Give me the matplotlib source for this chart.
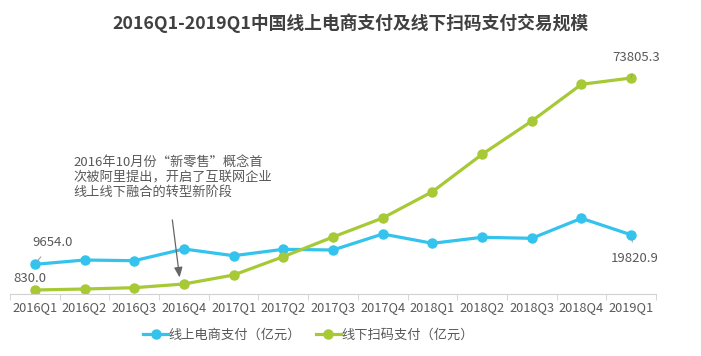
import matplotlib.pyplot as plt
import numpy as np

plt.rcParams['font.family'] = ['Noto Sans CJK SC', 'DejaVu Sans']

quarters = ['2016Q1', '2016Q2', '2016Q3', '2016Q4', '2017Q1', '2017Q2', '2017Q3',
            '2017Q4', '2018Q1', '2018Q2', '2018Q3', '2018Q4', '2019Q1']
online = [9654.0, 11150, 10910, 14940, 12630, 14840, 14590,
          20100, 16900, 18970, 18620, 25510, 19820.9]
offline = [830.0, 1170, 1620, 2890, 5990, 12290, 19070,
           25610, 34660, 47530, 58980, 71630, 73805.3]

blue = '#33C3EC'
green = '#A6C935'
grey = '#595959'

fig = plt.figure(figsize=(7.01, 3.56), dpi=100)
ax = fig.add_axes([10 / 701, 1 - 294 / 356, 646 / 701, 234 / 356])
x = np.arange(len(quarters))

ax.plot(x, online, color=blue, lw=2.3, marker='o', ms=6.5, label='线上电商支付（亿元）')
ax.plot(x, offline, color=green, lw=2.3, marker='o', ms=6.5, label='线下扫码支付（亿元）')

ax.set_xlim(-0.5, len(quarters) - 0.5)
ax.set_ylim(-550, 80000)
ax.set_yticks([])
for s in ['top', 'right', 'left']:
    ax.spines[s].set_visible(False)
ax.spines['bottom'].set_color('#d0d0d0')
ax.set_xticks(x)
ax.set_xticklabels(quarters, fontsize=9.2, color=grey)
ax.tick_params(axis='x', length=0, pad=5)
ax.set_xticks(np.arange(-0.5, len(quarters)), minor=True)
ax.tick_params(axis='x', which='minor', length=4, color='#d0d0d0')

# data labels
lead = dict(arrowstyle='-', color='#999999', lw=0.7, shrinkA=5, shrinkB=3)
ax.annotate(f'{online[0]:.1f}', xy=(x[0], online[0]), xytext=(x[0] + 0.36, 17330),
            fontsize=9.5, color=grey, ha='center', va='center', arrowprops=lead)
ax.text(x[0] - 0.11, 4950, f'{offline[0]:.1f}', fontsize=9.5, color=grey, ha='center', va='center')
ax.annotate(f'{offline[-1]:.1f}', xy=(x[-1], offline[-1]), xytext=(x[-1] + 0.1, 80700),
            fontsize=9.5, color=grey, ha='center', va='center', annotation_clip=False, arrowprops=lead)
ax.annotate(f'{online[-1]:.1f}', xy=(x[-1], online[-1]), xytext=(x[-1] + 0.08, 11800),
            fontsize=9.5, color=grey, ha='center', va='center', arrowprops=lead)

# 新零售 annotation
ax.text(0.77, 39700, '2016年10月份“新零售”概念首\n次被阿里提出，开启了互联网企业\n线上线下融合的转型新阶段',
        fontsize=9.5, color=grey, ha='left', va='center', linespacing=1.2)
ax.annotate('', xy=(2.92, 4200), xytext=(2.76, 25900),
            arrowprops=dict(arrowstyle='-|>,head_length=0.6,head_width=0.25', color='#666666', lw=0.9))

fig.text(0.5, 1 - 23 / 356, '2016Q1-2019Q1中国线上电商支付及线下扫码支付交易规模',
         fontsize=12.8, fontweight='bold', color='#404040', ha='center', va='center')

fig.legend(loc='center', bbox_to_anchor=(308.5 / 701, 1 - 335 / 356), ncol=2, frameon=False,
           fontsize=9.5, labelcolor=grey, handlelength=1.9, columnspacing=1.1, handletextpad=0.05)

fig.savefig('out.png', dpi=100)
